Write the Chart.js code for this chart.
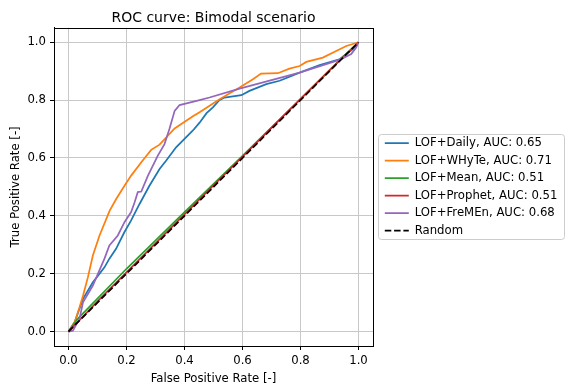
<!DOCTYPE html>
<html>
<head>
<meta charset="utf-8">
<script src="https://cdn.jsdelivr.net/npm/chart.js@4.4.1/dist/chart.umd.min.js"></script>
<style>
  html, body { margin: 0; padding: 0; background: #fff; }
  #wrap { width: 566px; height: 388px; }
</style>
</head>
<body>
<div id="wrap"><canvas id="roc"></canvas></div>
<script>
// ROC curve - bimodal scenario

const axisTicks = [0, 0.2, 0.4, 0.6, 0.8, 1.0];

const seriesNames = [
  "LOF+Daily, AUC: 0.65",
  "LOF+WHyTe, AUC: 0.71",
  "LOF+Mean, AUC: 0.51",
  "LOF+Prophet, AUC: 0.51",
  "LOF+FreMEn, AUC: 0.68",
  "Random"
];
const seriesColors = ["#1f77b4", "#ff7f0e", "#2ca02c", "#d62728", "#9467bd", "#000000"];

// false positive rate / true positive rate per series
const dailyFpr = [0, 0.021, 0.05, 0.084, 0.124, 0.141, 0.164, 0.193, 0.216, 0.245, 0.279, 0.314, 0.337, 0.371, 0.429, 0.452, 0.476, 0.498, 0.52, 0.538, 0.596, 0.624, 0.682, 0.728, 0.797, 0.866, 0.934, 0.963, 0.981, 1];
const dailyTpr = [0, 0.032, 0.113, 0.17, 0.222, 0.252, 0.286, 0.344, 0.384, 0.441, 0.504, 0.562, 0.591, 0.637, 0.695, 0.722, 0.755, 0.775, 0.80, 0.809, 0.817, 0.832, 0.855, 0.867, 0.895, 0.921, 0.941, 0.964, 0.976, 1];

const whyteFpr = [0, 0.021, 0.038, 0.05, 0.067, 0.084, 0.107, 0.142, 0.165, 0.193, 0.216, 0.251, 0.285, 0.314, 0.366, 0.429, 0.452, 0.521, 0.590, 0.636, 0.664, 0.722, 0.762, 0.797, 0.820, 0.877, 0.923, 0.958, 1];
const whyteTpr = [0, 0.032, 0.084, 0.124, 0.188, 0.263, 0.332, 0.418, 0.459, 0.504, 0.539, 0.585, 0.628, 0.646, 0.702, 0.744, 0.758, 0.803, 0.844, 0.872, 0.892, 0.893, 0.909, 0.918, 0.932, 0.947, 0.970, 0.987, 1];

const meanFpr = [0, 0.03, 0.2, 0.4, 0.6, 0.8, 0.95, 1];
const meanTpr = [0, 0.042, 0.217, 0.413, 0.607, 0.804, 0.953, 1];

const prophetFpr = [0, 0.1, 0.3, 0.5, 0.7, 0.9, 1];
const prophetTpr = [0, 0.104, 0.305, 0.505, 0.704, 0.903, 1];

const fremenFpr = [0, 0.015, 0.038, 0.05, 0.084, 0.124, 0.141, 0.170, 0.193, 0.216, 0.228, 0.239, 0.251, 0.274, 0.308, 0.331, 0.348, 0.366, 0.383, 0.452, 0.486, 0.590, 0.797, 0.934, 0.975, 0.992, 1];
const fremenTpr = [0, 0.003, 0.044, 0.101, 0.159, 0.252, 0.298, 0.332, 0.378, 0.413, 0.447, 0.482, 0.484, 0.539, 0.608, 0.648, 0.700, 0.763, 0.783, 0.800, 0.809, 0.840, 0.895, 0.939, 0.959, 0.982, 1];

const randomFpr = [0, 1];
const randomTpr = [0, 1];

const FONT = "'DejaVu Sans', sans-serif";
const LEGEND_W = 193;
const LEGEND_SHIFT = 6;

function toPoints(xs, ys) {
  return xs.map((x, i) => ({ x: x, y: ys[i] }));
}

const allSeries = [
  [dailyFpr, dailyTpr],
  [whyteFpr, whyteTpr],
  [meanFpr, meanTpr],
  [prophetFpr, prophetTpr],
  [fremenFpr, fremenTpr],
  [randomFpr, randomTpr]
];

const datasets = allSeries.map(([xs, ys], i) => ({
  label: seriesNames[i],
  data: toPoints(xs, ys),
  borderColor: seriesColors[i],
  backgroundColor: seriesColors[i],
  borderWidth: 1.75,
  borderDash: i === 5 ? [6.5, 2.8] : [],
  pointRadius: 0,
  tension: 0,
  order: 5 - i   // later series sit on top, like matplotlib
}));

// legend box is capped at a quarter of the width by the layout, widen it
// and nudge the entries to the right a little
const legendWidth = {
  id: "legendWidth",
  beforeLayout(chart) {
    const lg = chart.legend;
    if (!lg || lg._widened) return;
    const fit = lg.fit.bind(lg);
    const draw = lg.draw.bind(lg);
    lg.fit = function () { fit(); this.width = LEGEND_W; };
    lg.draw = function () {
      const ctx = this.ctx;
      ctx.save();
      ctx.translate(LEGEND_SHIFT, 0);
      draw();
      ctx.restore();
    };
    lg._widened = true;
  }
};

// white legend frame with grey rounded border
const legendFrame = {
  id: "legendFrame",
  beforeDraw(chart) {
    const boxes = chart.legend && chart.legend.legendHitBoxes;
    if (!boxes || !boxes.length) return;
    const ctx = chart.ctx;
    const left = Math.round(Math.min(...boxes.map(b => b.left)) + LEGEND_SHIFT - 7) + 0.5;
    const top = Math.round(Math.min(...boxes.map(b => b.top)) - 3) + 0.5;
    const bottom = Math.round(Math.max(...boxes.map(b => b.top + b.height)) + 2) + 0.5;
    const right = chart.width - 1.5;
    ctx.save();
    ctx.fillStyle = "#fff";
    ctx.strokeStyle = "#cccccc";
    ctx.lineWidth = 1;
    ctx.beginPath();
    ctx.roundRect(left, top, right - left, bottom - top, 3);
    ctx.fill();
    ctx.stroke();
    ctx.restore();
  }
};

// top and right spines
const frameBox = {
  id: "frameBox",
  afterDatasetsDraw(chart) {
    const a = chart.chartArea;
    const ctx = chart.ctx;
    const l = Math.round(a.left) + 0.5, r = Math.round(a.right) + 0.5;
    const t = Math.round(a.top) + 0.5, b = Math.round(a.bottom) + 0.5;
    ctx.save();
    ctx.strokeStyle = "#000";
    ctx.lineWidth = 1;
    ctx.strokeRect(l, t, r - l, b - t);
    ctx.restore();
  }
};

const scaleCommon = (title) => ({
  type: "linear",
  min: -0.05,
  max: 1.05,
  afterBuildTicks: axis => { axis.ticks = axisTicks.map(v => ({ value: v })); },
  grid: {
    color: "#c8c8c8",
    lineWidth: 1,
    drawTicks: true,
    tickLength: 4,
    tickColor: "#000",
    tickWidth: 1
  },
  border: { display: true, color: "#000", width: 1 },
  ticks: {
    color: "#000",
    font: { family: FONT, size: 11.7 },
    padding: 4,
    maxRotation: 0,
    callback: v => Number(v).toFixed(1)
  },
  title: {
    display: true,
    text: title,
    color: "#000",
    font: { family: FONT, size: 11.7 },
    padding: { top: 2, bottom: 2 }
  }
});

const xScale = scaleCommon("False Positive Rate [-]");
xScale.afterFit = s => { s.height = 42; };
const yScale = scaleCommon("True Positive Rate [-]");
yScale.afterFit = s => { s.width = 47; };

function legendLabels(chart) {
  const base = Chart.defaults.plugins.legend.labels.generateLabels(chart);
  return base.map(item => {
    const ds = chart.data.datasets[item.datasetIndex];
    item.lineDash = ds.borderDash;
    item.lineWidth = ds.borderWidth;
    item.strokeStyle = ds.borderColor;
    return item;
  });
}

new Chart(document.getElementById("roc"), {
  type: "line",
  data: { datasets },
  options: {
    responsive: true,
    maintainAspectRatio: false,
    animation: false,
    layout: { padding: { left: 7, right: 0, top: 0, bottom: 0 } },
    scales: { x: xScale, y: yScale },
    plugins: {
      title: {
        display: true,
        text: "ROC curve: Bimodal scenario",
        color: "#000",
        fullSize: false,
        font: { family: FONT, size: 14, weight: "normal" },
        padding: { top: 10, bottom: 1 }
      },
      legend: {
        position: "right",
        fullSize: false,
        align: "center",
        labels: {
          usePointStyle: true,
          pointStyle: "line",
          pointStyleWidth: 24,
          color: "#000",
          font: { family: FONT, size: 11.7 },
          padding: 5.8,
          generateLabels: legendLabels,
          sort: (a, b) => a.datasetIndex - b.datasetIndex
        }
      },
      tooltip: { enabled: false }
    }
  },
  plugins: [legendWidth, legendFrame, frameBox]
});
</script>
</body>
</html>
